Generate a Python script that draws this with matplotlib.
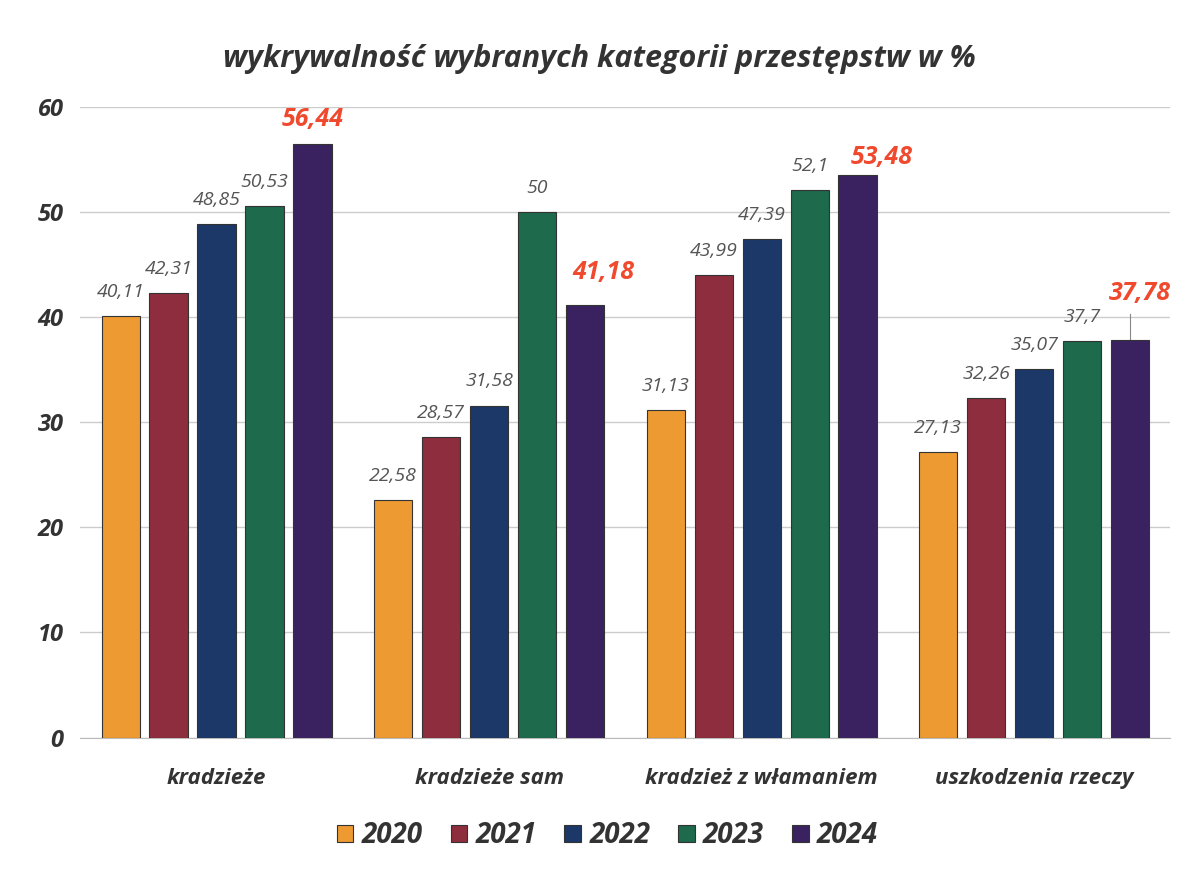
import matplotlib.pyplot as plt
import numpy as np

# ==================== 数据 ====================
categories = ['kradzieże', 'kradzieże sam', 'kradzież z włamaniem', 'uszkodzenia rzeczy']
years = ['2020', '2021', '2022', '2023', '2024']
v2020 = [40.11, 22.58, 31.13, 27.13]
v2021 = [42.31, 28.57, 43.99, 32.26]
v2022 = [48.85, 31.58, 47.39, 35.07]
v2023 = [50.53, 50.0, 52.1, 37.7]
v2024 = [56.44, 41.18, 53.48, 37.78]
series = [v2020, v2021, v2022, v2023, v2024]
colors = ['#EE9A32', '#8E2D3E', '#1C3868', '#1D6A4C', '#3A2260']

# 2024 etykiety przesunięte jak w oryginale (dx, dy)
red_offsets = [(0.0, 2.3), (0.066, 3.1), (0.09, 1.7), (0.037, 4.5)]

plt.rcParams['font.family'] = ['Open Sans', 'DejaVu Sans']

fig = plt.figure(figsize=(11.98, 8.75), dpi=100)
ax = fig.add_axes([0.067, 0.157, 0.91, 0.721])

x = np.arange(len(categories))
width = 0.14
step = 0.176

def fmt(v):
    s = ('%.2f' % v).rstrip('0').rstrip('.')
    return s.replace('.', ',')

for i, (vals, col, yr) in enumerate(zip(series, colors, years)):
    pos = x + (i - 2) * step
    ax.bar(pos, vals, width, color=col, edgecolor='#333333', linewidth=0.8,
           label=yr, zorder=3)
    for j, (p, v) in enumerate(zip(pos, vals)):
        if i == 4:
            dx, dy = red_offsets[j]
            ax.text(p + dx, v + dy, fmt(v), ha='center', va='center', fontsize=18,
                    fontweight='bold', style='italic', color='#F04A2E')
        else:
            ax.text(p, v + 2.3, fmt(v), ha='center', va='center', fontsize=14,
                    style='italic', color='#555555')

# linia odniesienia dla 37,78
ax.plot([x[3] + 2 * step] * 2, [37.9, 40.3], color='#888888', lw=0.8, zorder=2)

ax.set_xlim(-0.5, 3.5)
ax.set_ylim(0, 60)
ax.set_yticks(range(0, 61, 10))
ax.set_xticks(x)
ax.set_xticklabels(categories, fontsize=16, fontweight='bold', style='italic', color='#333333')
for t in ax.get_yticklabels():
    t.set_fontsize(17)
    t.set_fontweight('bold')
    t.set_style('italic')
    t.set_color('#333333')
ax.tick_params(length=0, pad=12)
ax.tick_params(axis='x', pad=22)
ax.grid(axis='y', color='#cccccc', lw=1, zorder=0)
for s in ['top', 'right', 'left']:
    ax.spines[s].set_visible(False)
ax.spines['bottom'].set_color('#bbbbbb')

fig.suptitle('wykrywalność wybranych kategorii przestępstw w %', x=0.5, y=0.95,
             fontsize=22, fontweight='bold', style='italic', color='#333333')

leg = fig.legend(loc='center', bbox_to_anchor=(0.507, 0.045), ncol=5, frameon=False,
                 prop={'size': 20, 'weight': 'bold', 'style': 'italic'},
                 handlelength=0.6, handleheight=0.6, columnspacing=1.0, handletextpad=0.3)
for t in leg.get_texts():
    t.set_color('#333333')

fig.savefig('out.png', dpi=100)
